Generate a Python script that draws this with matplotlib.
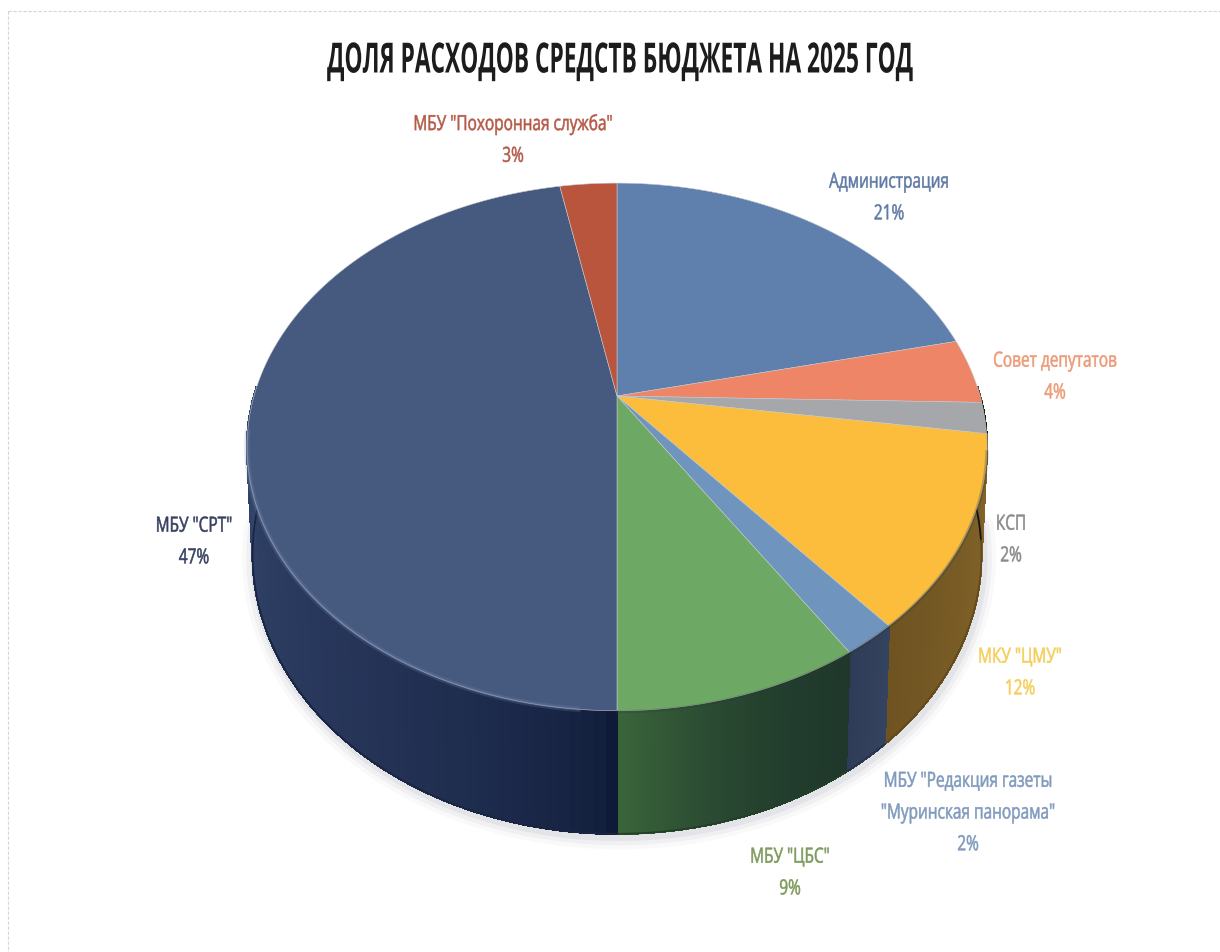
import numpy as np
import matplotlib
matplotlib.use("Agg")
import matplotlib.pyplot as plt
from matplotlib.transforms import Transform, Affine2D
from matplotlib.collections import PolyCollection
from matplotlib.colors import to_rgb
from matplotlib.patheffects import AbstractPathEffect
from matplotlib.path import Path

TITLE = "ДОЛЯ РАСХОДОВ СРЕДСТВ БЮДЖЕТА НА 2025 ГОД"
names = ["Администрация", "Совет депутатов", "КСП", 'МКУ "ЦМУ"',
         'МБУ "Редакция газеты\n"Муринская панорама"', 'МБУ "ЦБС"', 'МБУ "СРТ"',
         'МБУ "Похоронная служба"']
shares = [21.4, 4.0, 1.9, 11.7, 2.0, 9.0, 47.0, 3.0]
top_colors = ["#5F7FAD", "#EE8566", "#A6A7AA", "#FBBD3B", "#6F95BF", "#6DA964", "#46597F", "#B9543D"]
text_colors = ["#5F7BA5", "#EC9A78", "#8A8A8A", "#F5CE5A", "#7F9ABD", "#7E9A5C", "#37405F", "#B65A48"]
side_start = ["#3A4C6C", "#7A4430", "#202020", "#86662A", "#34435F", "#1F382B", "#0E1A37", "#2A1510"]
side_end = ["#3A4C6C", "#7A4430", "#101010", "#6F5422", "#2F3C58", "#3A653A", "#34456C", "#2A1510"]
side_gamma = [1, 1, 1, 1, 1, 1.8, 0.55, 1]
label_xy = [(889, 199), (1055, 378), (1011, 541), (1020, 674), (968, 814), (790, 874), (194, 543), (513, 141)]

# geometry of the tilted disc, in reference pixels
CX, AY, RA, RB, K = 617.0, 397.0, 363.0, 254.0, 0.193


class Tilt(Transform):
    """Perspective view of the unit-circle pie onto the page."""
    input_dims = output_dims = 2
    is_separable = False
    has_inverse = False
    is_affine = False

    def transform_non_affine(self, values):
        v = np.asarray(values, dtype=float)
        d = 1 + K * v[:, 1]
        return np.column_stack((CX + RA * v[:, 0] / d, AY - RB * v[:, 1] / d))

    def transform_path_non_affine(self, path):
        big = path.transformed(Affine2D().scale(2000)).cleaned(curves=False)
        return Path(self.transform_non_affine(big.vertices / 2000), big.codes)


class Squeeze(AbstractPathEffect):
    """Draws a text condensed horizontally about a display x position."""

    def __init__(self, sx, cx, weight=0.0):
        super().__init__()
        self.sx, self.cx, self.weight = sx, cx, weight

    def draw_path(self, renderer, gc, tpath, affine, rgbFace=None):
        squeeze = Affine2D().translate(-self.cx, 0).scale(self.sx, 1).translate(self.cx, 0)
        gc0 = renderer.new_gc()
        gc0.copy_properties(gc)
        if self.weight and rgbFace is not None:
            gc0.set_foreground(rgbFace)
            gc0.set_linewidth(self.weight)
        renderer.draw_path(gc0, tpath, affine + squeeze, rgbFace)
        gc0.restore()


def rim(theta):
    """theta: degrees clockwise from 12 o'clock."""
    r = np.radians(theta)
    return Tilt().transform_non_affine(np.column_stack((np.sin(r), np.cos(r))))


def lower(p):
    q = p.copy()
    q[:, 0] = CX + 0.985 * (p[:, 0] - CX)
    q[:, 1] = 448 + 1.059 * (p[:, 1] - 448) + 107.5
    return q


fig = plt.figure(figsize=(12.2, 9.53), dpi=100, facecolor="white")
ax = fig.add_axes([0, 0, 1, 1])

wedges, _ = ax.pie(shares, colors=top_colors, startangle=90, counterclock=False, radius=1,
                   wedgeprops=dict(linewidth=0.4, edgecolor="#c4c8d0"))
tilt = Tilt() + ax.transData
for w in wedges:
    w.set_transform(tilt)
    w.set_zorder(3)

edges = np.concatenate(([0], np.cumsum(shares))) * 3.6

# soft shadow around the lower rim
ang = np.linspace(95, 265, 200)
low = lower(rim(ang))
for lw, al in ((18, .04), (12, .06), (6, .09)):
    ax.plot(low[:, 0] + 2, low[:, 1] + 3, color="#6a6f80", lw=lw, alpha=al, zorder=0,
            solid_capstyle="round")

# side wall
for i in range(len(shares)):
    a0, a1 = edges[i], edges[i + 1]
    if a1 < 88 or a0 > 272:
        continue
    a0, a1 = max(a0, 88), min(a1, 272)
    t = np.linspace(a0, a1, 60)
    up, dn = rim(t), lower(rim(t))
    quads = [np.array([up[j], up[j + 1], dn[j + 1], dn[j]]) for j in range(len(t) - 1)]
    c0, c1 = np.array(to_rgb(side_start[i])), np.array(to_rgb(side_end[i]))
    f = np.linspace(0, 1, len(quads))[:, None] ** side_gamma[i]
    cols = c0 * (1 - f) + c1 * f
    ax.add_collection(PolyCollection(quads, facecolors=cols, edgecolors=cols, linewidths=1.0,
                                     antialiaseds=False, zorder=1))
    ax.plot(dn[:, 0], dn[:, 1], color=tuple((c0 + c1) / 2 * 0.8), lw=1.3, zorder=2)

# highlight along the front rim of the top face
t = np.linspace(185, 262, 120)
p = rim(t)
ax.plot(p[:, 0], p[:, 1], color="#7488AC", lw=4.0, alpha=.22, zorder=4)
ax.plot(p[:, 0], p[:, 1], color="#7488AC", lw=1.5, alpha=.40, zorder=4)
t = np.linspace(102, 180, 80)
p = rim(t)
ax.plot(p[:, 0], p[:, 1] + 1, color="#2a3a30", lw=2.5, alpha=.25, zorder=4)

ax.set_xlim(0, 1220)
ax.set_ylim(953, 0)
ax.set_axis_off()

font = ["Open Sans", "DejaVu Sans"]
ax.text(620, 63, TITLE, ha="center", va="center", fontsize=30, fontweight="bold",
        color="#1c1c1c", family=font, zorder=5, path_effects=[Squeeze(0.546, 620)])
for name, s, col, (x, y) in zip(names, shares, text_colors, label_xy):
    ax.text(x, y, f"{name}\n{round(s)}%", ha="center", va="center", fontsize=15, color=col,
            family=font, linespacing=1.67, zorder=5, path_effects=[Squeeze(0.74, x, 0.4)])

# faint scan border
ax.plot([8, 1220], [12, 12], color="#bbbbbb", lw=0.8, ls=(0, (3, 1.5)), alpha=.6)
ax.plot([8, 8], [12, 953], color="#bbbbbb", lw=0.8, ls=(0, (3, 1.5)), alpha=.6)

fig.savefig("out.png", dpi=100, facecolor="white")
